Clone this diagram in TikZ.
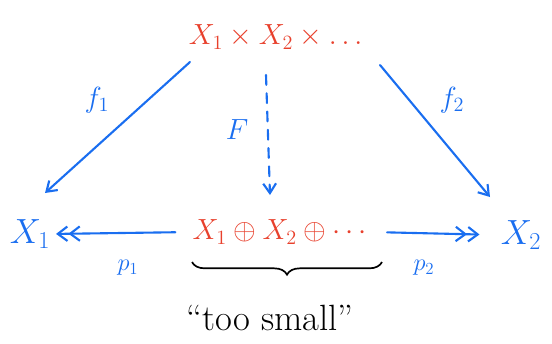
\documentclass[tikz,border=0pt]{standalone}
\usepackage{amsmath}
\usepackage{amssymb}
\usetikzlibrary{arrows.meta,decorations.pathreplacing,calc}
\definecolor{rot}{HTML}{E8402C}
\definecolor{blau}{HTML}{1A6EF0}
\tikzset{
  pfeil/.style={-{Straight Barb[length=2.4mm,width=3.2mm]},blau,line width=1.5pt,line cap=round},
  surj/.style={-{Straight Barb[length=2.4mm,width=3.6mm]Straight Barb[length=2.4mm,width=3.6mm]},blau,line width=1.5pt,line cap=round},
  gestr/.style={pfeil,dash pattern=on 7pt off 6pt},
  obj/.style={inner sep=0pt,font=\fontsize{20}{22}\selectfont},
  lab/.style={blau,inner sep=0pt,font=\fontsize{20}{22}\selectfont},
  klein/.style={blau,inner sep=0pt,font=\fontsize{18}{20}\selectfont},
}

\begin{document}
\begin{tikzpicture}[x=0.025cm,y=-0.025cm]
  \useasboundingbox (0,0) rectangle (552,343);
  % objects
  \node[obj,rot] (prod) at (278,37) {$X_1\times X_2\times\dots$};
  \node[obj,rot] (summe) at (282,232) {$X_1\oplus X_2\oplus\cdots$};
  \node[obj,blau,font=\fontsize{24}{26}\selectfont] (x1) at (30,234) {$X_1$};
  \node[obj,blau,font=\fontsize{24}{26}\selectfont] (x2) at (521,235) {$X_2$};
  % maps
  \draw[pfeil] ($(prod)+(-88,25)$) -- ($(x1)+(15,-41)$);
  \draw[pfeil] ($(prod)+(102,28)$) -- ($(x2)+(-31,-38)$);
  \draw[gestr] ($(prod)+(-12,38)$) -- ($(summe)+(-12,-37)$);
  \draw[surj,shorten <=12pt,shorten >=4pt] (summe.west) -- (x1.east);
  \draw[surj,shorten <=11pt,shorten >=15pt] (summe.east) -- (x2.west);
  % labels
  \node[lab] (lf1) at (97,100) {$f_1$};
  \node[lab] (lf2) at (452,100) {$f_2$};
  \node[lab] (lF) at (237,130) {$F$};
  \node[klein] (lp1) at (128,268) {$p_1$};
  \node[klein] (lp2) at (424,268) {$p_2$};
  % brace
  \coordinate (bl) at ($(summe)+(-90,30)$);
  \coordinate (br) at ($(summe)+(100,30)$);
  \draw[line width=1.2pt,decorate,decoration={brace,mirror,amplitude=9pt}] (bl) -- (br);
  \node[inner sep=0pt,font=\fontsize{26}{28}\selectfont] (zuklein) at (270,318) {``too small''};
\end{tikzpicture}
\end{document}
